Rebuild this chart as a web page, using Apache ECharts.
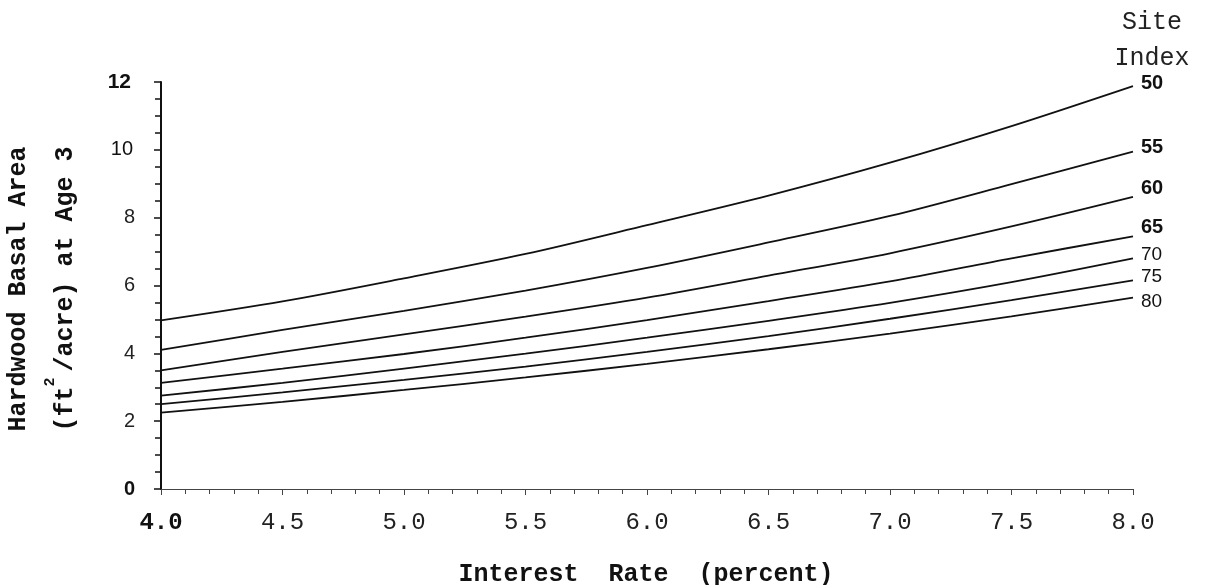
<!DOCTYPE html>
<html>
<head>
<meta charset="utf-8">
<script src="https://cdn.jsdelivr.net/npm/echarts@6/dist/echarts.min.js"></script>
<style>
html,body{margin:0;padding:0;background:#fff;}
#chart{width:1209px;height:585px;}
</style>
</head>
<body>
<div id="chart"></div>
<script>
// Interest rate (percent) — x positions of the read points
const rates = [4.0, 4.5, 5.0, 5.5, 6.0, 6.5, 7.0, 7.5, 8.0];
// Hardwood basal area (ft2/acre) at age 3, per site index
const si50 = [4.97, 5.53, 6.21, 6.93, 7.78, 8.65, 9.62, 10.70, 11.88];
const si55 = [4.10, 4.69, 5.25, 5.85, 6.52, 7.27, 8.05, 8.99, 9.95];
const si60 = [3.50, 4.04, 4.56, 5.08, 5.64, 6.29, 6.95, 7.74, 8.61];
const si65 = [3.13, 3.55, 3.98, 4.46, 4.98, 5.54, 6.12, 6.80, 7.45];
const si70 = [2.75, 3.13, 3.55, 3.99, 4.46, 4.96, 5.49, 6.10, 6.80];
const si75 = [2.50, 2.85, 3.22, 3.61, 4.04, 4.51, 5.02, 5.57, 6.15];
const si80 = [2.25, 2.57, 2.92, 3.29, 3.69, 4.12, 4.58, 5.09, 5.64];
const siteIndexes = ['50', '55', '60', '65', '70', '75', '80'];
const yTickLabels = ['0', '2', '4', '6', '8', '10', '12'];
const xTickLabels = ['4.0', '4.5', '5.0', '5.5', '6.0', '6.5', '7.0', '7.5', '8.0'];

const seriesValues = [si50, si55, si60, si65, si70, si75, si80];
const labelOffsets = [[0, -3], [0, -4], [0, -8], [0, -9], [0, -4], [0, -4], [0, 4]];
const boldLabels = { '50': true, '55': true, '60': true, '65': true };

const chart = echarts.init(document.getElementById('chart'), null, { renderer: 'canvas' });

const series = siteIndexes.map((name, i) => ({
  name: name,
  type: 'line',
  smooth: 0.3,
  symbol: 'none',
  data: rates.map((r, j) => [r, seriesValues[i][j]]),
  lineStyle: { color: '#111', width: 1.8 },
  endLabel: {
    show: true,
    formatter: name,
    distance: 8,
    offset: labelOffsets[i],
    color: '#111',
    fontFamily: 'Liberation Sans',
    fontSize: boldLabels[name] ? 20 : 19,
    fontWeight: boldLabels[name] ? 'bold' : 'normal'
  },
  emphasis: { disabled: true },
  silent: true,
  animation: false
}));

const yStyleKey = { '0': 'b', '2': 'n', '4': 'n', '6': 'n', '8': 'n', '10': 'r', '12': 'b2' };

chart.setOption({
  animation: false,
  backgroundColor: '#fff',
  grid: { left: 161, right: 76, top: 82, bottom: 96 },
  xAxis: {
    type: 'value',
    min: 4, max: 8, interval: 0.5,
    axisLine: { show: true, onZero: false, lineStyle: { color: '#444', width: 1 } },
    axisTick: { show: true, length: 6, lineStyle: { color: '#444', width: 1 } },
    minorTick: { show: true, splitNumber: 5, length: 5, lineStyle: { color: '#444', width: 1 } },
    splitLine: { show: false },
    axisLabel: {
      margin: 22,
      formatter: function (v) {
        const idx = Math.round((v - 4) / 0.5);
        const t = xTickLabels[idx];
        return idx === 0 ? '{b|' + t + '}' : '{n|' + t + '}';
      },
      rich: {
        b: { fontFamily: 'Liberation Mono', fontWeight: 'bold', fontSize: 24, color: '#111' },
        n: { fontFamily: 'Liberation Mono', fontSize: 24, color: '#222' }
      }
    }
  },
  yAxis: {
    type: 'value',
    min: 0, max: 12, interval: 2,
    axisLine: { show: true, onZero: false, lineStyle: { color: '#111', width: 2 } },
    axisTick: { show: true, length: 7, lineStyle: { color: '#111', width: 1.5 } },
    minorTick: { show: true, splitNumber: 4, length: 6, lineStyle: { color: '#111', width: 1.5 } },
    splitLine: { show: false },
    axisLabel: {
      margin: 26,
      formatter: function (v) {
        const t = yTickLabels[Math.round(v / 2)];
        return '{' + yStyleKey[t] + '|' + t + '}';
      },
      rich: {
        b: { fontFamily: 'Liberation Sans', fontWeight: 'bold', fontSize: 20, color: '#111' },
        b2: { fontFamily: 'Liberation Sans', fontWeight: 'bold', fontSize: 21, color: '#111', padding: [0, 4, 0, 0] },
        r: { fontFamily: 'Liberation Sans', fontSize: 20, color: '#111', padding: [0, 2, 0, 0] },
        n: { fontFamily: 'Liberation Sans Narrow, Liberation Sans', fontSize: 20, color: '#222' }
      }
    }
  },
  graphic: [
    { type: 'text', x: 646, y: 575, silent: true,
      style: { text: 'Interest  Rate  (percent)', font: 'bold 25px "Liberation Mono"', fill: '#111', align: 'center', verticalAlign: 'middle' } },
    { type: 'text', x: 19, y: 289, rotation: Math.PI / 2, silent: true,
      style: { text: 'Hardwood Basal Area', font: 'bold 25px "Liberation Mono"', fill: '#111', align: 'center', verticalAlign: 'middle' } },
    { type: 'text', x: 66, y: 289, rotation: Math.PI / 2, silent: true,
      style: { text: '(ft /acre) at Age 3', font: 'bold 25px "Liberation Mono"', fill: '#111', align: 'center', verticalAlign: 'middle' } },
    { type: 'text', x: 50, y: 382, rotation: Math.PI / 2, silent: true,
      style: { text: '2', font: 'bold 15px "Liberation Mono"', fill: '#111', align: 'center', verticalAlign: 'middle' } },
    { type: 'text', x: 1152, y: 22, silent: true,
      style: { text: 'Site', font: '25px "Liberation Mono"', fill: '#222', align: 'center', verticalAlign: 'middle' } },
    { type: 'text', x: 1152, y: 58, silent: true,
      style: { text: 'Index', font: '25px "Liberation Mono"', fill: '#222', align: 'center', verticalAlign: 'middle' } }
  ],
  series: series
});
</script>
</body>
</html>
